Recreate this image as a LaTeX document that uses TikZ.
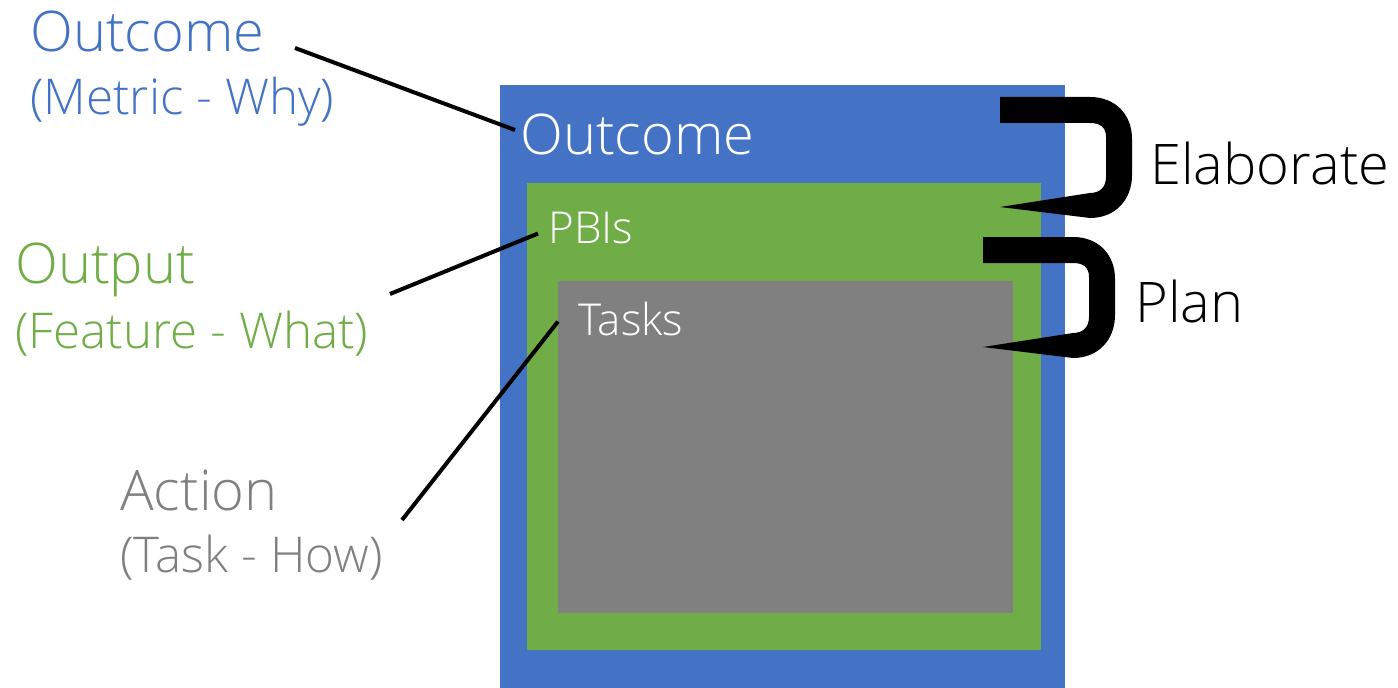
\documentclass[tikz,border=0pt]{standalone}
\usepackage{fontspec}
\setmainfont{Open Sans}[UprightFont=* Light]
\usetikzlibrary{positioning}
\definecolor{outblue}{HTML}{4472C4}
\definecolor{outgreen}{HTML}{70AD47}
\definecolor{actgray}{HTML}{808080}
\def\bigsize{\fontsize{42}{48}\selectfont}
\def\midsize{\fontsize{37}{42}\selectfont}
\def\smallsize{\fontsize{33}{38}\selectfont}
% curved hook arrow, drawn from its top left corner
\newcommand\hookarrow[1]{
  \fill[black,shift={#1}] (0,0) -- (90,0) .. controls (115,0) and (132,17) .. (132,42)
    -- (132,78) .. controls (132,103) and (115,121) .. (90,121)
    -- (0,110) -- (90,96) .. controls (100,96) and (106,90) .. (106,80)
    -- (106,40) .. controls (106,30) and (100,26) .. (90,26) -- (0,26) -- cycle;
}
\tikzset{
  lbl/.style={anchor=base west,inner sep=0pt},
  big/.style={lbl,font=\bigsize},
  sub/.style={lbl,font=\midsize},
  small/.style={lbl,font=\smallsize},
  pointer/.style={draw=black,line width=3pt},
}

\begin{document}
\begin{tikzpicture}[x=0.75pt,y=-0.75pt]
\useasboundingbox (0,0) rectangle (1398,688);
% nested boxes
\fill[outblue] (500,85) rectangle (1065,688);
\fill[outgreen] (527,183) rectangle (1041,650);
\fill[actgray] (558,281) rectangle (1013,613);
% texts in the boxes
\node[big,text=white] (outcomein) at (520,155) {Outcome};
\node[small,text=white] (pbis) at (548,243) {PBIs};
\node[small,text=white] (tasks) at (578,335) {Tasks};
% labels on the left
\node[big,text=outblue] (outcomelbl) at (30,52) {Outcome};
\node[sub,text=outblue] (metriclbl) at (30,115) {(Metric - Why)};
\node[big,text=outgreen] (outputlbl) at (15,283) {Output};
\node[sub,text=outgreen] (featurelbl) at (15,348) {(Feature - What)};
\node[big,text=actgray] (actionlbl) at (120,510) {Action};
\node[sub,text=actgray] (tasklbl) at (120,572) {(Task - How)};
% labels on the right
\node[big] (elaborate) at (1150,185) {Elaborate};
\node[big] (plan) at (1135,322) {Plan};
% pointers
\coordinate (outcometip) at (295,48);
\coordinate (outputtip) at (390,294);
\coordinate (actiontip) at (402,520);
\draw[pointer] (outcometip) -- ([shift={(-5,-5)}]outcomein.west);
\draw[pointer] (outputtip) -- ([shift={(-10,6)}]pbis.west);
\draw[pointer] (actiontip) -- ([shift={(-20,3)}]tasks.west);
% hooks
\hookarrow{(1000,97)}
\hookarrow{(983,237)}
\end{tikzpicture}
\end{document}
